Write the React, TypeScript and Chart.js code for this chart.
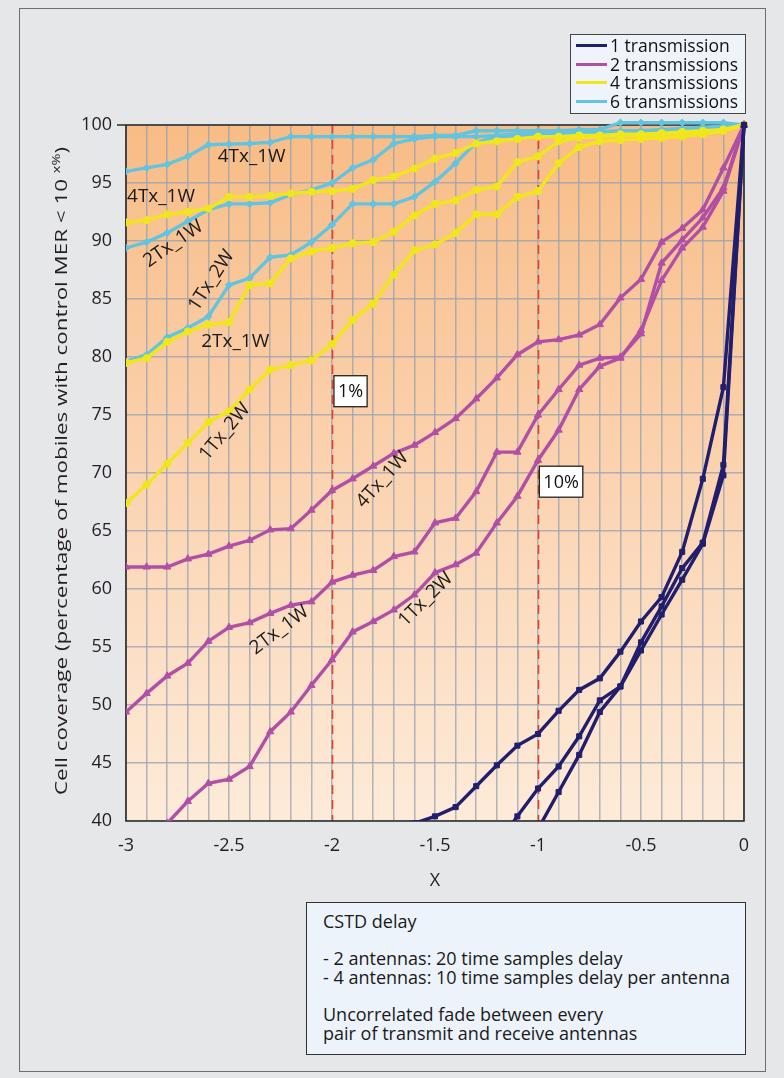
import React, { useEffect, useRef } from 'react';
import { Chart, registerables } from 'chart.js';

Chart.register(...registerables);

// ---------- DATA ----------
const X_VALUES = [-3, -2.9, -2.8, -2.7, -2.6, -2.5, -2.4, -2.3, -2.2, -2.1, -2, -1.9, -1.8, -1.7, -1.6, -1.5, -1.4, -1.3, -1.2, -1.1, -1, -0.9, -0.8, -0.7, -0.6, -0.5, -0.4, -0.3, -0.2, -0.1, 0];

// 6 transmissions (cyan)
const TX6_4TX_1W = [96.0, 96.3, 96.6, 97.3, 98.3, 98.35, 98.4, 98.5, 99.0, 99.0, 99.0, 99.0, 99.0, 99.0, 99.0, 99.1, 99.1, 99.5, 99.5, 99.5, 99.5, 99.5, 99.6, 99.6, 100.2, 100.2, 100.2, 100.2, 100.2, 100.2, 100];
const TX6_2TX_1W = [89.4, 89.9, 90.7, 91.7, 92.7, 93.2, 93.2, 93.3, 94.0, 94.4, 95.0, 96.3, 97.0, 98.4, 98.8, 99.0, 99.0, 99.0, 99.1, 99.2, 99.3, 99.3, 99.4, 99.4, 99.5, 99.5, 99.6, 99.7, 99.8, 99.9, 100];
const TX6_1TX_2W = [79.6, 80.2, 81.7, 82.5, 83.5, 86.2, 86.8, 88.6, 88.8, 89.9, 91.4, 93.2, 93.2, 93.2, 93.8, 95.1, 96.7, 98.5, 99.0, 99.1, 99.2, 99.2, 99.3, 99.3, 99.4, 99.4, 99.5, 99.6, 99.7, 99.8, 100];

// 4 transmissions (yellow)
const TX4_4TX_1W = [91.6, 91.8, 92.3, 92.5, 92.8, 93.8, 93.8, 93.9, 94.1, 94.25, 94.3, 94.5, 95.25, 95.55, 96.25, 97.1, 97.6, 98.4, 98.6, 98.8, 99.0, 99.0, 99.1, 99.1, 99.2, 99.2, 99.3, 99.4, 99.5, 99.6, 100];
const TX4_2TX_1W = [79.5, 79.9, 81.3, 82.2, 82.8, 83.0, 86.2, 86.35, 88.5, 89.1, 89.4, 89.8, 89.9, 90.8, 92.2, 93.2, 93.5, 94.4, 94.7, 96.8, 97.3, 98.6, 98.9, 99.0, 99.1, 99.1, 99.2, 99.3, 99.4, 99.6, 100];
const TX4_1TX_2W = [67.4, 69.0, 70.8, 72.6, 74.4, 75.3, 77.2, 78.9, 79.3, 79.7, 81.1, 83.2, 84.6, 87.1, 89.2, 89.7, 90.7, 92.3, 92.3, 93.8, 94.3, 96.7, 98.1, 98.6, 98.7, 98.8, 98.9, 99.0, 99.2, 99.5, 100];

// 2 transmissions (magenta)
const TX2_4TX_1W = [61.9, 61.9, 61.9, 62.6, 63.0, 63.7, 64.2, 65.1, 65.2, 66.8, 68.5, 69.5, 70.6, 71.7, 72.4, 73.5, 74.7, 76.4, 78.2, 80.2, 81.3, 81.5, 81.9, 82.8, 85.1, 86.7, 89.9, 91.1, 92.7, 96.3, 100];
const TX2_2TX_1W = [49.4, 51.0, 52.5, 53.6, 55.5, 56.7, 57.1, 57.9, 58.6, 58.9, 60.6, 61.2, 61.6, 62.8, 63.2, 65.7, 66.1, 68.4, 71.8, 71.8, 75.0, 77.2, 79.3, 79.9, 80.0, 82.0, 88.1, 90.1, 92.0, 94.6, 100];
const TX2_1TX_2W = [37.0, 38.3, 39.8, 41.7, 43.25, 43.6, 44.7, 47.7, 49.4, 51.7, 53.9, 56.3, 57.2, 58.2, 59.5, 61.4, 62.1, 63.1, 65.7, 68.0, 71.1, 73.7, 77.2, 79.2, 79.9, 82.3, 86.6, 89.4, 91.2, 94.3, 100];

// 1 transmission (navy)
const TX1_A = [null, null, null, null, null, null, null, null, null, null, null, null, null, 39.0, 39.8, 40.4, 41.2, 43.0, 44.8, 46.5, 47.5, 49.5, 51.3, 52.3, 54.6, 57.2, 59.3, 63.2, 69.5, 77.4, 100];
const TX1_B = [null, null, null, null, null, null, null, null, null, null, null, null, null, null, null, null, null, null, 38.0, 40.4, 42.8, 44.7, 47.3, 50.4, 51.6, 55.4, 58.5, 61.8, 64.0, 70.7, 100];
const TX1_C = [null, null, null, null, null, null, null, null, null, null, null, null, null, null, null, null, null, null, null, 36.8, 39.3, 42.5, 45.7, 49.4, 51.6, 54.7, 57.8, 60.8, 63.9, 69.8, 100];

const LEGEND_LABELS = ['1 transmission', '2 transmissions', '4 transmissions', '6 transmissions'];
const Y_TICKS_MIN = 40;
const Y_TICKS_MAX = 100;
const THRESHOLD_X = [-2, -1];
const THRESHOLD_LABELS = ['1%', '10%'];
const CURVE_LABELS = ['4Tx_1W', '4Tx_1W', '2Tx_1W', '1Tx_2W', '2Tx_1W', '1Tx_2W', '4Tx_1W', '2Tx_1W', '1Tx_2W'];
const NOTE_LINES = ['CSTD delay', '', '- 2 antennas: 20 time samples delay', '- 4 antennas: 10 time samples delay per antenna', '', 'Uncorrelated fade between every', 'pair of transmit and receive antennas'];

// ---------- STYLE ----------
const NAVY = '#221e6e';
const MAGENTA = '#b14fa6';
const YELLOW = '#f1e61c';
const CYAN = '#62c4df';
const COLORS = [NAVY, MAGENTA, YELLOW, CYAN];
const FONT = '"Open Sans", "Noto Sans", sans-serif';

// label anchors (data space) + rotation
const LABEL_POS = [
  { x: -2.39, y: 97.25, r: 0 },
  { x: -2.83, y: 93.85, r: 0 },
  { x: -2.77, y: 89.75, r: -35 },
  { x: -2.585, y: 86.6, r: -57 },
  { x: -2.47, y: 81.3, r: 0 },
  { x: -2.52, y: 73.55, r: -50 },
  { x: -1.755, y: 69.4, r: -48 },
  { x: -2.255, y: 56.45, r: -37 },
  { x: -1.545, y: 59.1, r: -45 },
];
const BOX_POS = [
  { x: -1.91, y: 77.05 },
  { x: -0.888, y: 69.25 },
];

function makeSet(values: (number | null)[], color: string, style: string, radius: number) {
  return {
    data: X_VALUES.map((x, i) => ({ x, y: values[i] })),
    borderColor: color,
    backgroundColor: color,
    borderWidth: 3.4,
    pointStyle: style,
    pointRadius: radius,
    pointBorderWidth: 1,
    pointHoverRadius: radius,
    tension: 0,
    spanGaps: false,
    clip: { left: 0, top: 8, right: 8, bottom: 0 },
  };
}

const decorPlugin = {
  id: 'decor',
  beforeDraw(chart: any) {
    const { ctx, chartArea: a } = chart;
    ctx.save();
    const g = ctx.createLinearGradient(0, a.top, 0, a.bottom);
    g.addColorStop(0, '#f8bc86');
    g.addColorStop(0.5, '#fbd3b0');
    g.addColorStop(1, '#fdebd9');
    ctx.fillStyle = g;
    ctx.fillRect(a.left, a.top, a.right - a.left, a.bottom - a.top);
    ctx.restore();
  },
  beforeDatasetsDraw(chart: any) {
    const { ctx, chartArea: a, scales } = chart;
    const xs = scales.x, ys = scales.y;
    ctx.save();
    ctx.strokeStyle = '#e3412f';
    ctx.lineWidth = 1.6;
    ctx.setLineDash([9, 6]);
    THRESHOLD_X.forEach((v) => {
      const px = Math.round(xs.getPixelForValue(v)) + 0.5;
      ctx.beginPath();
      ctx.moveTo(px, ys.getPixelForValue(Y_TICKS_MAX));
      ctx.lineTo(px, ys.getPixelForValue(Y_TICKS_MIN));
      ctx.stroke();
    });
    ctx.setLineDash([]);
    ctx.strokeStyle = '#2a2a2a';
    ctx.lineWidth = 1.6;
    ctx.beginPath();
    ctx.moveTo(a.left - 9, a.top);
    ctx.lineTo(a.right, a.top);
    ctx.lineTo(a.right, a.bottom);
    ctx.lineTo(a.left, a.bottom);
    ctx.lineTo(a.left, a.top);
    ctx.stroke();
    ctx.restore();
  },
  afterDraw(chart: any) {
    const { ctx, chartArea: a, scales } = chart;
    const xs = scales.x, ys = scales.y;
    ctx.save();
    ctx.fillStyle = '#1a1a1a';
    ctx.font = `19px ${FONT}`;
    ctx.textAlign = 'center';
    ctx.textBaseline = 'middle';
    CURVE_LABELS.forEach((t, i) => {
      const p = LABEL_POS[i];
      ctx.save();
      ctx.translate(xs.getPixelForValue(p.x), ys.getPixelForValue(p.y));
      ctx.rotate((p.r * Math.PI) / 180);
      ctx.fillText(t, 0, 0);
      ctx.restore();
    });
    ctx.font = `18px ${FONT}`;
    THRESHOLD_LABELS.forEach((t, i) => {
      const p = BOX_POS[i];
      const cx = xs.getPixelForValue(p.x);
      const cy = ys.getPixelForValue(p.y);
      const w = ctx.measureText(t).width + 8;
      const h = 31;
      ctx.fillStyle = '#ffffff';
      ctx.fillRect(cx - w / 2, cy - h / 2, w, h);
      ctx.strokeStyle = '#222';
      ctx.lineWidth = 1.3;
      ctx.strokeRect(cx - w / 2, cy - h / 2, w, h);
      ctx.fillStyle = '#111';
      ctx.fillText(t, cx, cy + 1);
    });
    // y axis title with superscript
    const main = 'Cell coverage (percentage of mobiles with control MER < 10 ';
    const sup = 'x%';
    const end = ')';
    ctx.font = `17px ${FONT}`;
    const w1 = ctx.measureText(main).width;
    const w3 = ctx.measureText(end).width;
    ctx.font = `11px ${FONT}`;
    const w2 = ctx.measureText(sup).width;
    const total = w1 + w2 + w3;
    const target = 648;
    const sx = target / total;
    ctx.translate(62, (a.top + a.bottom) / 2 - 2);
    ctx.rotate(-Math.PI / 2);
    ctx.scale(sx, 1);
    ctx.fillStyle = '#231f20';
    ctx.textAlign = 'left';
    ctx.textBaseline = 'middle';
    let x0 = -total / 2;
    ctx.font = `17px ${FONT}`;
    ctx.fillText(main, x0, 0);
    x0 += w1;
    ctx.font = `11px ${FONT}`;
    ctx.fillText(sup, x0, -5);
    x0 += w2;
    ctx.font = `17px ${FONT}`;
    ctx.fillText(end, x0, 0);
    ctx.restore();
  },
};

export default function App() {
  const ref = useRef<HTMLCanvasElement | null>(null);

  useEffect(() => {
    if (!ref.current) return;
    const datasets = [
      makeSet(TX1_A, NAVY, 'rect', 3.6),
      makeSet(TX1_B, NAVY, 'rect', 3.6),
      makeSet(TX1_C, NAVY, 'rect', 3.6),
      makeSet(TX2_4TX_1W, MAGENTA, 'triangle', 4.2),
      makeSet(TX2_2TX_1W, MAGENTA, 'triangle', 4.2),
      makeSet(TX2_1TX_2W, MAGENTA, 'triangle', 4.2),
      makeSet(TX4_4TX_1W, YELLOW, 'circle', 3.6),
      makeSet(TX4_2TX_1W, YELLOW, 'circle', 3.6),
      makeSet(TX4_1TX_2W, YELLOW, 'circle', 3.6),
      makeSet(TX6_4TX_1W, CYAN, 'rectRot', 3.6),
      makeSet(TX6_2TX_1W, CYAN, 'rectRot', 3.6),
      makeSet(TX6_1TX_2W, CYAN, 'rectRot', 3.6),
    ];
    const chart = new Chart(ref.current, {
      type: 'line',
      data: { datasets: datasets as any },
      options: {
        animation: false,
        responsive: false,
        devicePixelRatio: 1,
        layout: { padding: { left: 0, top: 125, right: 40, bottom: 182 } },
        plugins: { legend: { display: false }, tooltip: { enabled: false } },
        scales: {
          x: {
            type: 'linear',
            min: -3,
            max: 0,
            afterFit: (s: any) => { s.height = 75; },
            ticks: {
              stepSize: 0.1,
              autoSkip: false,
              maxRotation: 0,
              padding: 14,
              color: '#231f20',
              font: { family: FONT, size: 18 },
              callback: (v: any) => {
                const t = Math.round(Number(v) * 10);
                return t % 5 === 0 ? String(t / 10) : '';
              },
            },
            grid: { color: 'rgba(150,160,178,0.75)', lineWidth: 1.5, drawTicks: false },
            border: { display: false },
            title: { display: true, text: 'X', color: '#231f20', font: { family: FONT, size: 18 }, padding: { top: 8, bottom: 4 } },
          },
          y: {
            min: Y_TICKS_MIN,
            max: Y_TICKS_MAX,
            afterFit: (s: any) => { s.width = 126; },
            ticks: {
              stepSize: 5,
              padding: 14,
              color: '#231f20',
              font: { family: FONT, size: 18 },
            },
            grid: { color: 'rgba(150,160,178,0.75)', lineWidth: 1.6, drawTicks: false },
            border: { display: false },
          },
        },
      },
      plugins: [decorPlugin],
    });
    return () => chart.destroy();
  }, []);

  return (
    <div style={{ position: 'absolute', left: 0, top: 0, width: 784, height: 1078, background: '#e6e7e9', overflow: 'hidden', fontFamily: FONT }}>
      <div style={{ position: 'absolute', left: 19, top: 8, width: 747, height: 1064, border: '1.5px solid #6d6e71', boxSizing: 'border-box' }} />
      <canvas ref={ref} width={784} height={1078} style={{ position: 'absolute', left: 0, top: 0, width: 784, height: 1078 }} />
      <div style={{ position: 'absolute', left: 570, top: 34, width: 176, height: 80, background: '#eef4fa', border: '1.5px solid #444', boxSizing: 'border-box', paddingTop: 1 }}>
        {LEGEND_LABELS.map((t, i) => (
          <div key={t} style={{ position: 'relative', height: 18.7, lineHeight: '18.7px', fontSize: 17.5, color: '#111', whiteSpace: 'nowrap' }}>
            <span style={{ position: 'absolute', left: 5, top: 8, width: 31, height: 3, background: COLORS[i] }} />
            <span style={{ position: 'absolute', left: 39, top: 0 }}>{t}</span>
          </div>
        ))}
      </div>
      <div style={{ position: 'absolute', left: 306, top: 902, width: 440, height: 153, background: '#edf3fa', border: '1.5px solid #333', boxSizing: 'border-box', padding: '9px 0 0 16px', fontSize: 18, lineHeight: '18.6px', color: '#1a1a1a', whiteSpace: 'pre' }}>
        {NOTE_LINES.map((t, i) => (
          <div key={i} style={{ height: 18.6 }}>{t}</div>
        ))}
      </div>
    </div>
  );
}
